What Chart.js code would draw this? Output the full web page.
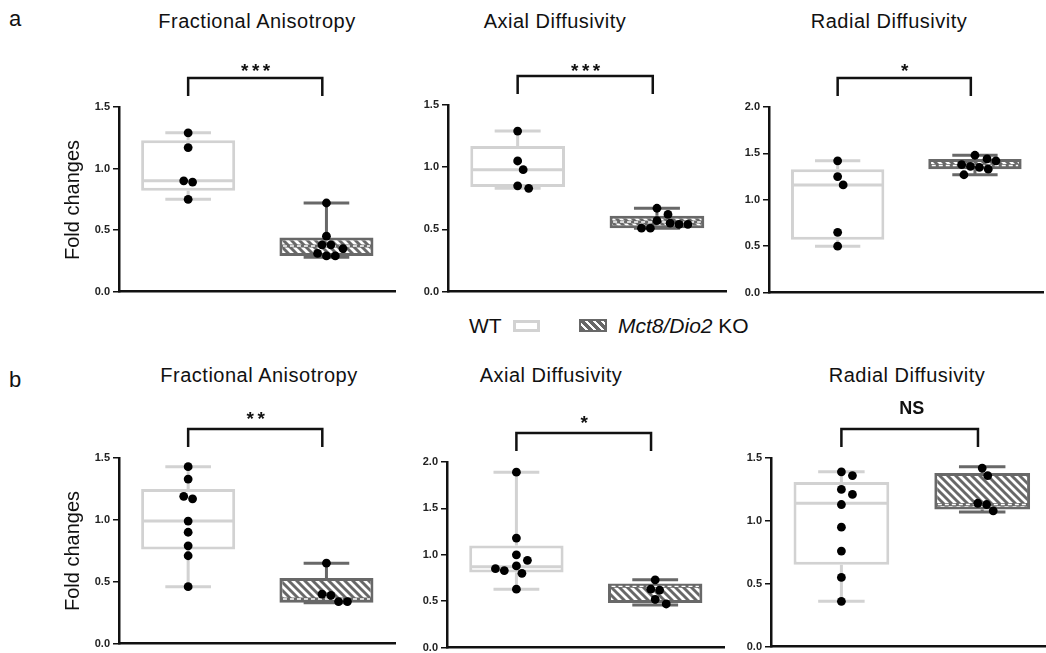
<!DOCTYPE html>
<html>
<head>
<meta charset="utf-8">
<script src="https://cdn.jsdelivr.net/npm/chart.js@4.4.1/dist/chart.umd.min.js"></script>
<style>
html,body{margin:0;padding:0;width:1046px;height:653px;overflow:hidden;background:#fff;font-family:"Liberation Sans",Arial,sans-serif;color:#111;}
.abs{position:absolute;white-space:nowrap;line-height:1;}
canvas{position:absolute;}
.title{font-size:20px;letter-spacing:0.5px;transform:translateX(-50%);}
.sig{font-size:19px;font-weight:bold;transform:translateX(-50%);letter-spacing:3.5px;}
.ylab{font-size:20px;transform:translate(-50%,-50%) rotate(-90deg);}
.letter{font-size:22px;}
.leg{font-size:21px;}
</style>
</head>
<body>
<div id="root"></div>
<script>
// ---------- data ----------
const groups = ['WT', 'Mct8/Dio2 KO'];
const panelTitles = ['Fractional Anisotropy', 'Axial Diffusivity', 'Radial Diffusivity'];
const yAxisMax = [1.5, 1.5, 2.0, 1.5, 2.0, 1.5];
const tickStep = 0.5;
const significance = ['***', '***', '*', '**', '*', 'NS'];

// row a – individual values
const faA_WT = [1.29, 1.17, 0.90, 0.89, 0.75];
const faA_KO = [0.72, 0.45, 0.38, 0.38, 0.35, 0.31, 0.29, 0.29];
const adA_WT = [1.29, 1.05, 0.98, 0.85, 0.83];
const adA_KO = [0.67, 0.62, 0.57, 0.55, 0.54, 0.54, 0.51, 0.51];
const rdA_WT = [1.42, 1.25, 1.16, 0.65, 0.50];
const rdA_KO = [1.48, 1.44, 1.42, 1.38, 1.36, 1.35, 1.33, 1.27];
// row b – individual values
const faB_WT = [1.43, 1.33, 1.19, 1.17, 0.99, 0.90, 0.79, 0.71, 0.46];
const faB_KO = [0.65, 0.40, 0.39, 0.34, 0.34];
const adB_WT = [1.89, 1.18, 1.00, 0.94, 0.88, 0.85, 0.83, 0.80, 0.63];
const adB_KO = [0.73, 0.63, 0.62, 0.52, 0.47];
const rdB_WT = [1.39, 1.36, 1.25, 1.21, 1.13, 0.95, 0.76, 0.55, 0.36];
const rdB_KO = [1.42, 1.36, 1.14, 1.13, 1.08];

// box statistics [whisker min, Q1, median, Q3, whisker max]
const faA_WT_box = [0.75, 0.82, 0.90, 1.23, 1.29];
const faA_KO_box = [0.28, 0.29, 0.37, 0.44, 0.72];
const adA_WT_box = [0.83, 0.84, 0.98, 1.17, 1.29];
const adA_KO_box = [0.51, 0.51, 0.56, 0.61, 0.67];
const rdA_WT_box = [0.50, 0.57, 1.16, 1.33, 1.42];
const rdA_KO_box = [1.27, 1.33, 1.37, 1.44, 1.48];
const faB_WT_box = [0.46, 0.76, 0.99, 1.25, 1.43];
const faB_KO_box = [0.33, 0.33, 0.36, 0.53, 0.65];
const adB_WT_box = [0.63, 0.81, 0.87, 1.10, 1.89];
const adB_KO_box = [0.46, 0.48, 0.66, 0.69, 0.73];
const rdB_WT_box = [0.36, 0.65, 1.14, 1.31, 1.39];
const rdB_KO_box = [1.07, 1.09, 1.13, 1.38, 1.43];

// ---------- layout (pixels) ----------
const geom = [
  {L:119, R:400, T:107, B:293, titleX:257, titleBase:28, sigY:66},
  {L:448, R:731, T:105, B:293, titleX:555, titleBase:28, sigY:66},
  {L:769, R:1048, T:107, B:294, titleX:889, titleBase:28, sigY:66},
  {L:119, R:400, T:458, B:645, titleX:259, titleBase:382, sigY:414},
  {L:447, R:729, T:462, B:649, titleX:551, titleBase:382, sigY:418},
  {L:771, R:1057, T:458, B:648, titleX:907, titleBase:382, sigY:408}
];
const WT_GRAY = '#d2d2d2';
const KO_GRAY = '#686868';

const panels = [
  {title: panelTitles[0], wt: faA_WT, ko: faA_KO, wtBox: faA_WT_box, koBox: faA_KO_box},
  {title: panelTitles[1], wt: adA_WT, ko: adA_KO, wtBox: adA_WT_box, koBox: adA_KO_box},
  {title: panelTitles[2], wt: rdA_WT, ko: rdA_KO, wtBox: rdA_WT_box, koBox: rdA_KO_box},
  {title: panelTitles[0], wt: faB_WT, ko: faB_KO, wtBox: faB_WT_box, koBox: faB_KO_box},
  {title: panelTitles[1], wt: adB_WT, ko: adB_KO, wtBox: adB_WT_box, koBox: adB_KO_box},
  {title: panelTitles[2], wt: rdB_WT, ko: rdB_KO, wtBox: rdB_WT_box, koBox: rdB_KO_box}
];

Chart.defaults.font.family = '"Liberation Sans", Arial, sans-serif';

function makePattern() {
  const c = document.createElement('canvas');
  c.width = 8; c.height = 8;
  const g = c.getContext('2d');
  g.fillStyle = KO_GRAY; g.fillRect(0, 0, 8, 8);
  g.strokeStyle = '#ffffff'; g.lineWidth = 2.8;
  g.beginPath();
  for (const k of [-8, 0, 8]) { g.moveTo(k - 1, -1); g.lineTo(k + 9, 9); }
  g.stroke();
  return g.createPattern(c, 'repeat');
}
const hatch = makePattern();

// deterministic beeswarm placement in pixel space (near-equal values laid out symmetrically)
function swarm(vals, pxY, pxCat, idx) {
  const D = 9, s = 5.6, tieTol = 2.5;
  const placed = [];
  const res = new Array(vals.length);
  const order = vals.map((v, i) => i).sort((a, b) => vals[b] - vals[a]);
  const rows = [];
  order.forEach(i => {
    const last = rows[rows.length - 1];
    if (last && Math.abs(vals[last[last.length - 1]] - vals[i]) * pxY < tieTol) last.push(i);
    else rows.push([i]);
  });
  rows.forEach(row => {
    const n = row.length;
    for (let k = 0; k < 40; k++) {
      const c = Math.ceil(k / 2) * (k % 2 ? 1 : -1) * s;
      const offs = row.map((_, j) => c + (j - (n - 1) / 2) * D);
      const ok = row.every((i, j) => placed.every(p => Math.hypot(p.x - offs[j], p.y - vals[i] * pxY) >= D - 0.01));
      if (ok) {
        row.forEach((i, j) => {
          placed.push({x: offs[j], y: vals[i] * pxY});
          res[i] = {x: idx + offs[j] / pxCat, y: vals[i]};
        });
        break;
      }
    }
  });
  return res;
}

function decoPlugin(stats) {
  return {
    id: 'boxdeco',
    beforeDatasetsDraw(chart) {
      const xs = chart.scales.x, ys = chart.scales.y, ctx = chart.ctx;
      const cw = xs.width / 2;
      const hw = cw * 0.165;
      stats.forEach((st, i) => {
        const x = xs.getPixelForValue(i);
        const yMin = ys.getPixelForValue(st[0]);
        const yQ1 = ys.getPixelForValue(st[1]);
        const yQ3 = ys.getPixelForValue(st[3]);
        const yMax = ys.getPixelForValue(st[4]);
        ctx.save();
        ctx.strokeStyle = i === 0 ? WT_GRAY : KO_GRAY;
        ctx.lineWidth = 3;
        ctx.beginPath();
        ctx.moveTo(x, yQ3); ctx.lineTo(x, yMax);
        ctx.moveTo(x, yQ1); ctx.lineTo(x, yMin);
        ctx.moveTo(x - hw, yMax); ctx.lineTo(x + hw, yMax);
        ctx.moveTo(x - hw, yMin); ctx.lineTo(x + hw, yMin);
        ctx.stroke();
        ctx.restore();
      });
    },
    afterDatasetDraw(chart, args) {
      if (args.meta.type !== 'bar') return;
      const ys = chart.scales.y, ctx = chart.ctx;
      args.meta.data.forEach((el, i) => {
        const {x, width} = el.getProps(['x', 'width'], true);
        const y = ys.getPixelForValue(stats[i][2]);
        const x0 = x - width / 2 + 1.5, x1 = x + width / 2 - 1.5;
        ctx.save();
        ctx.lineWidth = 3;
        ctx.strokeStyle = i === 0 ? WT_GRAY : KO_GRAY;
        ctx.beginPath(); ctx.moveTo(x0, y); ctx.lineTo(x1, y); ctx.stroke();
        if (i === 1) {
          ctx.strokeStyle = '#ffffff'; ctx.lineWidth = 1.4; ctx.setLineDash([4, 3]);
          ctx.beginPath(); ctx.moveTo(x0 + 2, y); ctx.lineTo(x1 - 2, y); ctx.stroke();
        }
        ctx.restore();
      });
    },
    afterDraw(chart) {
      const xj = chart.scales.xj, ctx = chart.ctx, top = chart.chartArea.top;
      const xa = xj.getPixelForValue(0), xb = xj.getPixelForValue(0.97);
      ctx.save();
      ctx.strokeStyle = '#111'; ctx.lineWidth = 2.5; ctx.lineJoin = 'miter';
      ctx.beginPath();
      ctx.moveTo(xa, top - 11); ctx.lineTo(xa, top - 29); ctx.lineTo(xb, top - 29); ctx.lineTo(xb, top - 11);
      ctx.stroke();
      ctx.restore();
    }
  };
}

const root = document.getElementById('root');
function addDiv(cls, text, left, top, html) {
  const d = document.createElement('div');
  d.className = 'abs ' + cls;
  if (html) d.innerHTML = text; else d.textContent = text;
  d.style.left = left + 'px'; d.style.top = top + 'px';
  root.appendChild(d);
  return d;
}

panels.forEach((p, n) => {
  const g = geom[n];
  const yAxisW = 45, padTop = 40, xAxisH = 3;
  const cLeft = g.L - yAxisW, cTop = g.T - padTop;
  const cW = g.R - cLeft, cH = g.B - cTop + xAxisH;
  const cv = document.createElement('canvas');
  cv.width = cW; cv.height = cH;
  cv.style.left = cLeft + 'px'; cv.style.top = cTop + 'px';
  cv.style.width = cW + 'px'; cv.style.height = cH + 'px';
  root.appendChild(cv);

  const ymax = yAxisMax[n];
  const pxY = (g.B - g.T) / ymax, pxCat = (g.R - g.L) / 2;
  const pts = swarm(p.wt, pxY, pxCat, 0).concat(swarm(p.ko, pxY, pxCat, 1));

  new Chart(cv, {
    type: 'bar',
    data: {
      labels: groups,
      datasets: [
        {
          type: 'bar',
          data: [[p.wtBox[1], p.wtBox[3]], [p.koBox[1], p.koBox[3]]],
          backgroundColor: ['#ffffff', hatch],
          borderColor: [WT_GRAY, KO_GRAY],
          borderWidth: 3,
          borderSkipped: false,
          grouped: false,
          barPercentage: 0.68,
          categoryPercentage: 1,
          xAxisID: 'x', yAxisID: 'y',
          order: 1
        },
        {
          type: 'scatter',
          data: pts,
          xAxisID: 'xj', yAxisID: 'y',
          pointRadius: 4.4,
          pointBackgroundColor: '#000',
          pointBorderWidth: 0,
          order: 0
        }
      ]
    },
    options: {
      responsive: false,
      animation: false,
      devicePixelRatio: 1,
      events: [],
      layout: {padding: {top: padTop, left: 0, right: 0, bottom: 0}},
      plugins: {legend: {display: false}, title: {display: false}, tooltip: {enabled: false}},
      scales: {
        x: {
          type: 'category',
          offset: true,
          grid: {display: false},
          ticks: {display: false},
          border: {display: true, color: '#111', width: 2.5},
          afterFit(s) { s.height = xAxisH; s.paddingLeft = s.paddingRight = s.paddingTop = s.paddingBottom = 0; }
        },
        xj: {type: 'linear', display: false, offset: false, min: -0.5, max: 1.5},
        y: {
          type: 'linear',
          min: 0, max: ymax,
          ticks: {
            stepSize: tickStep,
            callback: v => Number(v).toFixed(1),
            font: {size: 11, weight: 'bold'},
            color: '#222',
            padding: 3
          },
          grid: {drawOnChartArea: false, drawTicks: true, tickLength: 6, color: '#111', lineWidth: 1.5},
          border: {display: true, color: '#111', width: 2.5},
          afterFit(s) { s.width = yAxisW; s.paddingLeft = s.paddingRight = s.paddingTop = s.paddingBottom = 0; }
        }
      }
    },
    plugins: [decoPlugin([p.wtBox, p.koBox])]
  });

  // title
  addDiv('title', p.title, g.titleX, g.titleBase - 16.9);
  // significance mark centred over bracket
  const sig = significance[n];
  const d = addDiv('sig', sig, 0, 0);
  const bx = (g.L + (g.R - g.L) * 0.25) + ((g.R - g.L) * 0.5 * 0.97) / 2;
  d.style.left = bx + 'px';
  d.style.top = (sig === 'NS' ? g.sigY - 9.3 : g.sigY - 5.2) + 'px';
  if (sig === 'NS') { d.style.letterSpacing = '0px'; d.style.fontSize = '18px'; }
});

// panel letters and axis titles
addDiv('letter', 'a', 9, 27 - 18.6);
addDiv('letter', 'b', 9, 388 - 18.6);
addDiv('ylab', 'Fold changes', 72, 200);
addDiv('ylab', 'Fold changes', 72, 551);

// legend
addDiv('leg', 'WT', 469, 315);
const sw1 = addDiv('', '', 513, 320);
Object.assign(sw1.style, {width: '27px', height: '12px', boxSizing: 'border-box', border: '3px solid ' + WT_GRAY, background: '#fff'});
const sw2 = addDiv('', '', 579, 319);
Object.assign(sw2.style, {width: '28px', height: '13px', background: 'repeating-linear-gradient(45deg, ' + KO_GRAY + ' 0px, ' + KO_GRAY + ' 3.2px, #fff 3.2px, #fff 5.6px)', border: '2px solid ' + KO_GRAY, boxSizing: 'border-box'});
addDiv('leg', '<i>Mct8/Dio2</i> KO', 618, 315, true);
</script>
</body>
</html>
